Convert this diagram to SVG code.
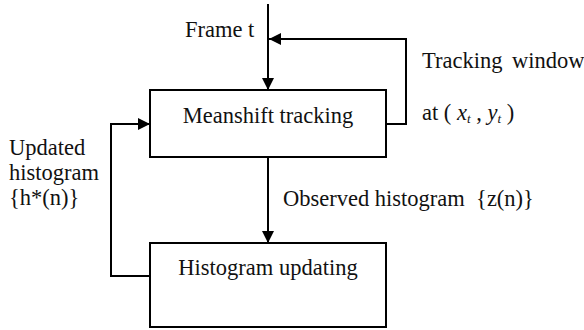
<svg xmlns="http://www.w3.org/2000/svg" width="584" height="330" viewBox="0 0 584 330">
  <defs>
    <style>
      .box { fill: #ffffff; stroke: #000000; stroke-width: 2; }
      .wire { fill: none; stroke: #000000; stroke-width: 2; }
      text { font-family: "Liberation Serif", "Times New Roman", serif; font-size: 22.5px; fill: #111111; }
      .mid { text-anchor: middle; }
    </style>
    <marker id="head" viewBox="0 0 12 12" refX="12" refY="6" markerWidth="12" markerHeight="12" markerUnits="userSpaceOnUse" orient="auto">
      <path d="M0,0 L12,6 L0,12 z" fill="#000000"/>
    </marker>
  </defs>
  <rect width="584" height="330" fill="#ffffff"/>

  <g id="connectors">
    <!-- frame input into tracker -->
    <path class="wire" d="M268,4 V90" marker-end="url(#head)"/>
    <!-- tracking window feedback loop -->
    <path class="wire" d="M386,124 H406 V39 H269" marker-end="url(#head)"/>
    <!-- observed histogram to updater -->
    <path class="wire" d="M268,157 V243" marker-end="url(#head)"/>
    <!-- updated histogram back to tracker -->
    <path class="wire" d="M150,276 H111 V124 H150" marker-end="url(#head)"/>
  </g>

  <g id="meanshift">
    <rect class="box" x="150" y="90" width="236" height="67"/>
    <text class="mid" x="268" y="123">Meanshift tracking</text>
  </g>

  <g id="histogram-updating">
    <rect class="box" x="150" y="243" width="236" height="84"/>
    <text class="mid" x="268" y="275">Histogram updating</text>
  </g>

  <g id="labels">
    <text x="185" y="37">Frame t</text>
    <text x="422" y="68" word-spacing="4">Tracking window</text>
    <text x="422" y="120">at ( <tspan font-style="italic">x</tspan><tspan font-style="italic" font-size="13" dy="3">t</tspan><tspan dy="-3"> , </tspan><tspan font-style="italic">y</tspan><tspan font-style="italic" font-size="13" dy="3">t</tspan><tspan dy="-3"> )</tspan></text>
    <text x="9" y="155">Updated</text>
    <text x="9" y="180">histogram</text>
    <text x="9" y="205">{h*(n)}</text>
    <text x="283" y="206" xml:space="preserve">Observed histogram  {z(n)}</text>
  </g>
</svg>
